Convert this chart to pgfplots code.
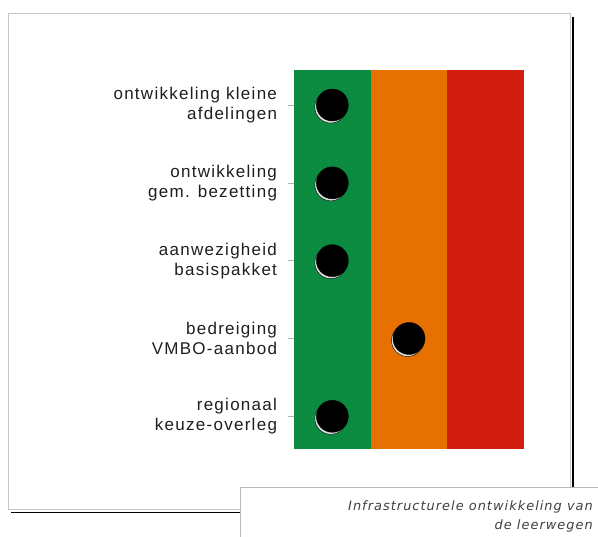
\documentclass[border=0pt]{standalone}
\usepackage{pgfplots}
\pgfplotsset{compat=1.18}
\usetikzlibrary{patterns.meta}
\usepackage{fontspec}
\setmainfont{Liberation Sans}
\newfontfamily\labfont[LetterSpace=7.5]{Liberation Sans}
\newfontfamily\capfont[LetterSpace=8]{DejaVu Sans Oblique}
\definecolor{bgreen}{RGB}{11,139,64}
\definecolor{bdots}{RGB}{70,165,105}
\definecolor{borange}{RGB}{230,112,0}
\definecolor{bred}{RGB}{210,30,14}
\definecolor{txt}{RGB}{30,30,30}
\begin{document}
\begin{tikzpicture}
\path[use as bounding box] (0bp,0bp) rectangle (598bp,537bp);
% outer frame and shadow
\draw[gray!45, line width=0.8bp] (8.5bp,523.5bp) rectangle (570bp,28bp);
\draw[black, line width=1.8bp] (572.6bp,520bp) -- (572.6bp,24.5bp);
\draw[black, line width=1.8bp] (11bp,24.5bp) -- (573.5bp,24.5bp);
\begin{axis}[
  at={(294bp,88bp)}, anchor=south west,
  scale only axis, width=230bp, height=379bp,
  xmin=0, xmax=3, ymin=0.55, ymax=5.42, y dir=reverse,
  axis line style={draw=none},
  xtick=\empty,
  ytick={1,2,3,4,5},
  yticklabels={{ontwikkeling kleine\\afdelingen},{ontwikkeling\\gem. bezetting},{aanwezigheid\\basispakket},{bedreiging\\VMBO-aanbod},{regionaal\\keuze-overleg}},
  ytick pos=left, tick align=outside, major tick length=6bp,
  ytick style={gray!60, line width=0.6bp},
  yticklabel style={align=right, text=txt, font=\labfont\fontsize{17bp}{20bp}\selectfont, xshift=-7.5bp},
  clip=false,
]
\addplot[fill=bgreen, draw=none] coordinates {(0,0.55) (1,0.55) (1,5.42) (0,5.42)} -- cycle;
\addplot[pattern={Dots[radius=0.5bp, distance=8bp]}, pattern color=bdots, draw=none] coordinates {(0,0.55) (1,0.55) (1,5.42) (0,5.42)} -- cycle;
\addplot[fill=borange, draw=none] coordinates {(1,0.55) (2,0.55) (2,5.42) (1,5.42)} -- cycle;
\addplot[fill=bred, draw=none] coordinates {(2,0.55) (3,0.55) (3,5.42) (2,5.42)} -- cycle;
\addplot[only marks, mark=*, mark size=16bp, mark options={fill=white!88!black, draw=none, xshift=-1.5bp, yshift=-2bp}] coordinates {(0.5,1) (0.5,2) (0.5,3) (1.5,4) (0.5,5)};
\addplot[only marks, mark=*, mark size=16bp, mark options={fill=black, draw=none}] coordinates {(0.5,1) (0.5,2) (0.5,3) (1.5,4) (0.5,5)};
\end{axis}
% caption box
\fill[white] (240bp,50bp) rectangle (598bp,-3bp);
\draw[gray!55, line width=0.8bp] (240bp,-3bp) -- (240bp,50bp) -- (598bp,50bp);
\node[anchor=base east, align=right, text=txt!85!white, font=\capfont\fontsize{12.9bp}{19bp}\selectfont, inner sep=0] at (593bp,8bp) {Infrastructurele ontwikkeling van\\de leerwegen};
\end{tikzpicture}
\end{document}
